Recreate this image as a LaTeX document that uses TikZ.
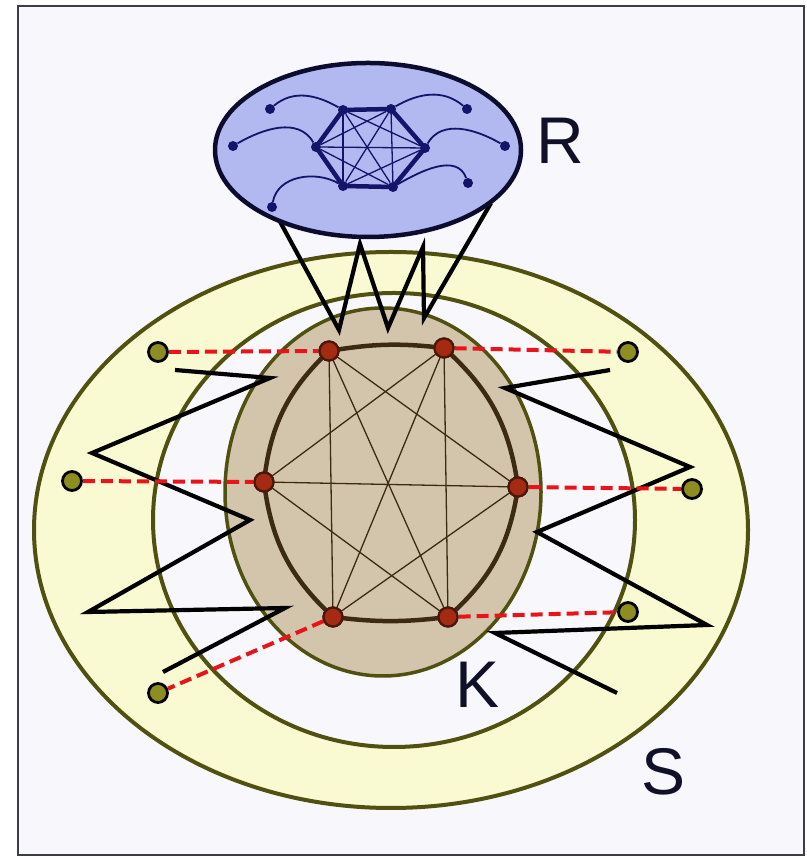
\documentclass[tikz,border=0pt]{standalone}
\usepackage{fontspec}
\setmainfont{Liberation Sans}
\usetikzlibrary{shapes.geometric}
\definecolor{bgc}{HTML}{F8F8FC}
\definecolor{framec}{HTML}{3C3C4C}
\definecolor{rfill}{HTML}{B2B8F0}
\definecolor{rborder}{HTML}{0C0C2E}
\definecolor{navy}{HTML}{14146A}
\definecolor{sfill}{HTML}{FAFAD2}
\definecolor{olive}{HTML}{505010}
\definecolor{kfill}{HTML}{D3C5AB}
\definecolor{kedge}{HTML}{3C2A12}
\definecolor{knodefill}{HTML}{A52A12}
\definecolor{knodeborder}{HTML}{4A1808}
\definecolor{dotfill}{HTML}{8E8E20}
\definecolor{dashred}{HTML}{E8141A}
\definecolor{labelc}{HTML}{101028}
\tikzset{
  region/.style={ellipse, inner sep=0pt, outer sep=0pt},
  rdot/.style={circle, fill=navy, inner sep=0pt, minimum size=10pt},
  kdot/.style={circle, fill=knodefill, draw=knodeborder, line width=2.2pt, inner sep=0pt, minimum size=19pt},
  odot/.style={circle, fill=dotfill, draw=black, line width=2.8pt, inner sep=0pt, minimum size=19pt},
  rhex/.style={navy, line width=4.5pt, line join=round},
  rinner/.style={navy, line width=1.3pt},
  rcurve/.style={navy, line width=1.8pt},
  khex/.style={kedge, line width=4.5pt},
  kinner/.style={kedge, line width=1.3pt},
  zig/.style={black, line width=4.2pt, line join=miter, miter limit=6},
  reddash/.style={dashred, line width=4pt, dash pattern=on 12pt off 6pt},
  biglabel/.style={text=labelc, font=\fontsize{66}{66}\selectfont, inner sep=0pt}
}
\begin{document}
\begin{tikzpicture}[x=1pt,y=1pt]
\useasboundingbox (0,0) rectangle (806,858);
\fill[white] (0,0) rectangle (806,858);
\draw[framec, line width=2.5pt, fill=bgc] (18,3) rectangle (804,852);

% S ring
\node[region, fill=sfill, draw=olive, line width=4pt, minimum width=714pt, minimum height=556pt] (Sout) at (391,328) {};
\node[region, fill=bgc, draw=olive, line width=4pt, minimum width=482pt, minimum height=454pt] (Sin) at (394,338) {};

% K region
\node[region, fill=kfill, draw=olive, line width=3.5pt, minimum width=316pt, minimum height=368pt] (K) at (383,366) {};

% zigzags S <-> K
\draw[zig] (175,488) -- (270,480) -- (92,405) -- (250,338) -- (88,246) -- (285,250) -- (163,186);
\draw[zig] (610,488) -- (505,470) -- (690,391) -- (537,326) -- (707,233) -- (495,225) -- (617,165);

% R nodes
\node[rdot] (b6) at (272,651) {};
\coordinate (rend) at (491,655);

% zigzag R <-> K
\draw[zig] (b6.center) -- (339,528) -- (360,614) -- (388,530) -- (423,611) -- (424,540) -- (rend);

% R region
\node[region, fill=rfill, draw=rborder, line width=4.5pt, minimum width=306pt, minimum height=174pt] (R) at (368,708) {};

\node[rdot] (a1) at (343,748) {};
\node[rdot] (a2) at (391,749) {};
\node[rdot] (a3) at (316,711) {};
\node[rdot] (a4) at (425,710) {};
\node[rdot] (a5) at (343,672) {};
\node[rdot] (a6) at (393,671) {};
\node[rdot] (b1) at (270,749) {};
\node[rdot] (b2) at (233,712) {};
\node[rdot] (b3) at (467,749) {};
\node[rdot] (b4) at (505,712) {};
\node[rdot] (b5) at (468,675) {};
\node[rdot] (b6x) at (272,651) {};

\foreach \u/\v in {a1/a4,a1/a5,a1/a6,a2/a3,a2/a5,a2/a6,a3/a4,a3/a6,a4/a5}
  \draw[rinner] (\u) -- (\v);
\draw[rhex] (a1.center) -- (a2.center) -- (a4.center) -- (a6.center) -- (a5.center) -- (a3.center) -- cycle;
\draw[rcurve] (a1) to[out=150,in=40] (b1);
\draw[rcurve] (a3) to[out=120,in=30] (b2);
\draw[rcurve] (a5) to[out=150,in=80] (b6x);
\draw[rcurve] (a2) to[out=30,in=140] (b3);
\draw[rcurve] (a4) to[out=60,in=150] (b4);
\draw[rcurve] (a6) to[out=30,in=110] (b5);

% K nodes
\node[kdot] (k1) at (329,507) {};
\node[kdot] (k2) at (444,510) {};
\node[kdot] (k3) at (264,376) {};
\node[kdot] (k4) at (518,371) {};
\node[kdot] (k5) at (333,241) {};
\node[kdot] (k6) at (448,241) {};

% olive dots
\node[odot] (o1) at (158,506) {};
\node[odot] (o2) at (628,506) {};
\node[odot] (o3) at (72,377) {};
\node[odot] (o4) at (692,369) {};
\node[odot] (o5) at (628,246) {};
\node[odot] (o6) at (158,165) {};

% red dashed links
\draw[reddash] (o1) -- (k1);
\draw[reddash] (k2) -- (o2);
\draw[reddash] (o3) -- (k3);
\draw[reddash] (k4) -- (o4);
\draw[reddash] (k6) -- (o5);
\draw[reddash] (k5) -- (o6);

% K complete graph
\foreach \u/\v in {k1/k4,k1/k5,k1/k6,k2/k3,k2/k5,k2/k6,k3/k4,k3/k6,k4/k5}
  \draw[kinner] (\u.center) -- (\v.center);
\draw[khex] (k1.center) to[bend left=8] (k2.center);
\draw[khex] (k2.center) to[bend left=20] (k4.center);
\draw[khex] (k4.center) to[bend left=20] (k6.center);
\draw[khex] (k6.center) to[bend left=7] (k5.center);
\draw[khex] (k5.center) to[bend left=20] (k3.center);
\draw[khex] (k3.center) to[bend left=20] (k1.center);
\foreach \n/\p in {k1/{329,507},k2/{444,510},k3/{264,376},k4/{518,371},k5/{333,241},k6/{448,241}}
  \node[kdot] at (\p) {};

% labels
\node[biglabel] (Rl) at (560,717) {R};
\node[biglabel] (Kl) at (478,173) {K};
\node[biglabel] (Sl) at (663,86) {S};
\end{tikzpicture}
\end{document}
